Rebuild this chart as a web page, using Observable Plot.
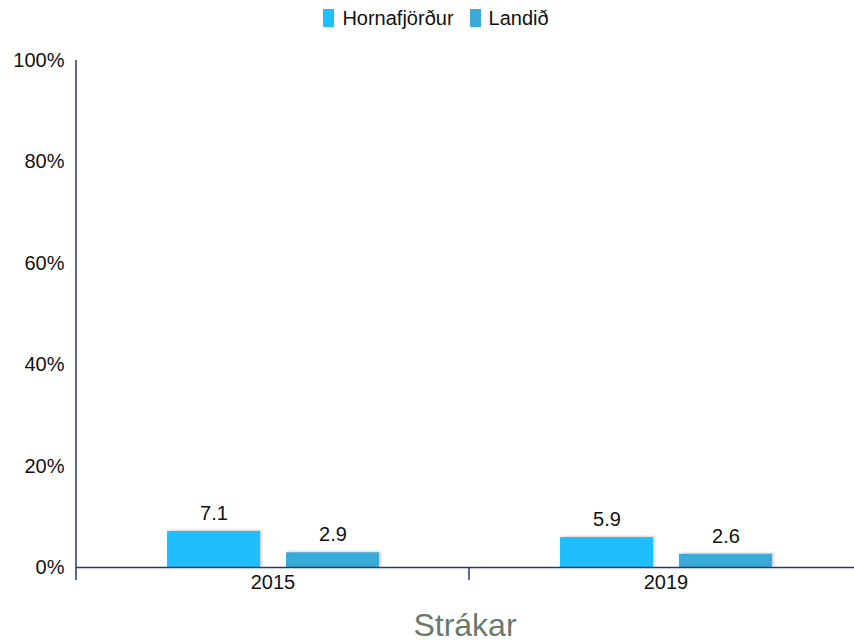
<!DOCTYPE html>
<html>
<head>
<meta charset="utf-8">
<script src="https://cdn.jsdelivr.net/npm/d3@7"></script>
<script src="https://cdn.jsdelivr.net/npm/@observablehq/plot@0.6"></script>
<style>
  html, body { margin: 0; padding: 0; background: #fff; }
  body { width: 854px; height: 643px; overflow: hidden; font-family: "Liberation Sans", Arial, sans-serif; }
  #legend { height: 36px; display: flex; justify-content: center; align-items: center; gap: 16px; font-size: 20px; color: #111; padding-left: 18px; box-sizing: border-box; }
  #legend .item { display: flex; align-items: center; gap: 8px; }
  #legend .sw { width: 11px; height: 18px; display: inline-block; }
  #title { text-align: center; padding-left: 76px; font-size: 32px; color: #6a7a6a; line-height: 34px; height: 34px; margin-top: 8px; }
  .bars rect { filter: drop-shadow(2px -1px 1px rgba(0,0,0,0.18)); }
</style>
</head>
<body>
<div id="legend"></div>
<div id="chart"></div>
<div id="title">Strákar</div>
<script>
const years = ["2015", "2019"];
const series = ["Hornafjörður", "Landið"];
const hornafjordur = [7.1, 5.9];
const landid = [2.9, 2.6];
const colors = ["#1ebeff", "#3aabd9"];
const yTicks = [0, 20, 40, 60, 80, 100];

const data = [];
years.forEach((yr, i) => {
  data.push({year: yr, series: series[0], value: hornafjordur[i]});
  data.push({year: yr, series: series[1], value: landid[i]});
});

const legend = document.getElementById("legend");
series.forEach((s, i) => {
  const it = document.createElement("span");
  it.className = "item";
  it.innerHTML = `<span class="sw" style="background:${colors[i]}"></span><span>${s}</span>`;
  legend.appendChild(it);
});

const axisColor = "#26386e";

const plot = Plot.plot({
  width: 854,
  height: 564,
  marginTop: 24,
  marginBottom: 33,
  marginLeft: 76,
  marginRight: -8,
  style: {fontFamily: "Liberation Sans, Arial, sans-serif", fontSize: "20px", color: "#111", background: "#fff"},
  fx: {domain: years, padding: 0, label: null},
  x: {domain: series, paddingInner: 0.22, paddingOuter: 0.76, axis: null},
  y: {domain: [0, 100], label: null},
  color: {domain: series, range: colors},
  marks: [
    Plot.barY(data, {fx: "year", x: "series", y: "value", fill: "series", className: "bars"}),
    Plot.text(data, {fx: "year", x: "series", y: "value", text: d => d.value.toFixed(1), dy: -18, fontSize: 20, fill: "#111"}),
    Plot.axisY({ticks: yTicks, tickFormat: d => d + "%", tickSize: 0, tickPadding: 12, fontSize: 20, fill: "#111"}),
    Plot.axisFx({anchor: "bottom", tickSize: 0, tickPadding: 7, label: null, fontSize: 20, fill: "#111"}),
    Plot.ruleY([0], {stroke: axisColor, strokeWidth: 1.5})
  ]
});
document.getElementById("chart").appendChild(plot);

// axis line and facet boundary ticks, positioned through the plot's scales
const ys = plot.scale("y");
const fxs = plot.scale("fx");
const svg = d3.select(plot);
const y0 = ys.apply(0), y100 = ys.apply(100);
const g = svg.append("g").attr("stroke", axisColor).attr("stroke-width", 1.5);
years.forEach((yr) => {
  const xb = fxs.apply(yr);
  g.append("line").attr("x1", xb).attr("x2", xb)
    .attr("y1", yr === years[0] ? y100 : y0).attr("y2", y0 + 13);
});
</script>
</body>
</html>
